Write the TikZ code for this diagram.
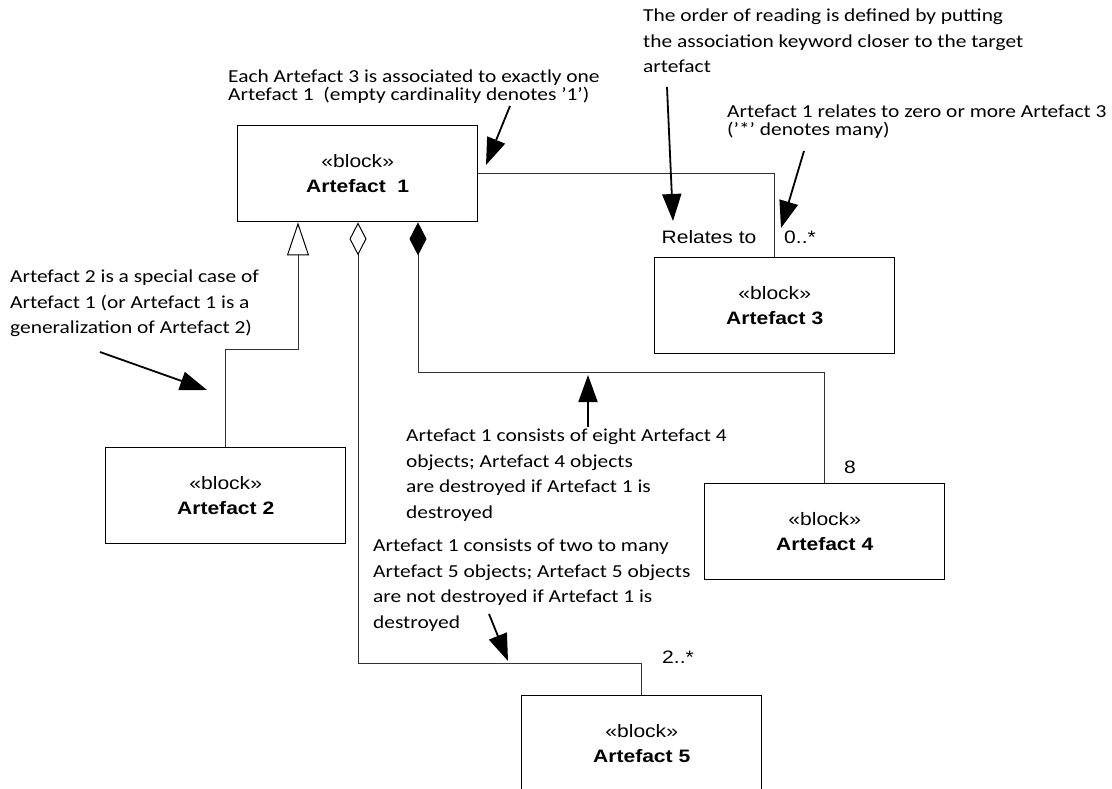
\documentclass[tikz,border=0pt]{standalone}
\usepackage{fontspec}
\usepackage{graphicx}
\usetikzlibrary{arrows.meta}
\newfontfamily\boxfont{Liberation Sans}
\newfontfamily\notefont{Carlito}
% all lettering is set slightly wide
\newcommand{\wide}[1]{\scalebox{1.17}[1]{#1}}
\tikzset{
  blockbox/.style={draw=black, line width=1.4pt, fill=white, anchor=north west,
    minimum width=240pt, minimum height=96pt, inner sep=0pt, align=center,
    font=\boxfont\fontsize{18}{25}\selectfont},
  conn/.style={draw=black!80, line width=1pt},
  gen/.style={conn, -{Triangle[open, length=33pt, width=22pt, line width=1pt, color=black, fill=white]}},
  agg/.style={conn, {Diamond[open, length=33pt, width=17pt, line width=1pt, color=black, fill=white]}-},
  comp/.style={conn, {Diamond[length=33pt, width=17pt, color=black, fill=black]}-},
  mult/.style={font=\boxfont\fontsize{18}{22}\selectfont, inner sep=0pt},
  note/.style={font=\notefont\fontsize{18.3}{25.5}\selectfont, align=left, anchor=north west, inner sep=0pt},
  tightnote/.style={note, font=\notefont\fontsize{18.3}{17.6}\selectfont},
  callout/.style={line width=1.8pt, -{Triangle[length=27pt, width=19pt]}},
}
\newcommand{\blocktext}[1]{\wide{«block»}\\\wide{\bfseries #1}}
\begin{document}
\begin{tikzpicture}[x=1pt, y=-1pt]
  \clip (0,0) rectangle (1112,789);
  \fill[white] (0,0) rectangle (1112,789);

  % blocks
  \node[blockbox] (a1) at (237,125) {\blocktext{Artefact\ \ 1}};
  \node[blockbox] (a2) at (105,447) {\blocktext{Artefact 2}};
  \node[blockbox] (a3) at (654,257) {\blocktext{Artefact 3}};
  \node[blockbox] (a4) at (704,483) {\blocktext{Artefact 4}};
  \node[blockbox] (a5) at (521,695) {\blocktext{Artefact 5}};

  % relations
  \draw[gen] (a2.north) -- ++(0,-98) -| ([xshift=61pt]a1.south west);
  \draw[agg] ([xshift=121pt]a1.south west) |- ([yshift=32pt]a5.north) -- (a5.north);
  \draw[comp] ([xshift=181pt]a1.south west) |- ([yshift=111pt]a4.north) -- (a4.north);
  \draw[conn] (a1.east) -| (a3.north);

  % association ends
  \node[mult] (rel) at (709,237) {\wide{Relates to}};
  \node[mult] (m3) at (800,237) {\wide{0..*}};
  \node[mult] (m4) at (850,467) {\wide{8}};
  \node[mult] (m5) at (678,657) {\wide{2..*}};

  % notes
  \node[tightnote] (nA) at (228,70) {\wide{Each Artefact 3 is associated to exactly one}\\\wide{Artefact 1\ \ (empty cardinality denotes ’1’)}};
  \node[note] (nB) at (643,9) {\wide{The order of reading is defined by putting}\\\wide{the association keyword closer to the target}\\\wide{artefact}};
  \node[tightnote] (nC) at (727,105) {\wide{Artefact 1 relates to zero or more Artefact 3}\\\wide{(’*’ denotes many)}};
  \node[note] (nD) at (10,270) {\wide{Artefact 2 is a special case of}\\\wide{Artefact 1 (or Artefact 1 is a}\\\wide{generalization of Artefact 2)}};
  \node[note] (nE) at (406,429) {\wide{Artefact 1 consists of eight Artefact 4}\\\wide{objects; Artefact 4 objects}\\\wide{are destroyed if Artefact 1 is}\\\wide{destroyed}};
  \node[note] (nF) at (373,539) {\wide{Artefact 1 consists of two to many}\\\wide{Artefact 5 objects; Artefact 5 objects}\\\wide{are not destroyed if Artefact 1 is}\\\wide{destroyed}};

  % callout arrows
  \coordinate (cA0) at (510,106);  \coordinate (cA1) at (486,165);
  \coordinate (cB0) at (667,87);   \coordinate (cB1) at (673,221);
  \coordinate (cC0) at (804,151);  \coordinate (cC1) at (781,228);
  \coordinate (cD0) at (100,352);  \coordinate (cD1) at (207,390);
  \coordinate (cE0) at (588,427);  \coordinate (cE1) at (588,375);
  \coordinate (cF0) at (489,614);  \coordinate (cF1) at (508,661);
  \draw[callout] (cA0) -- (cA1);
  \draw[callout] (cB0) -- (cB1);
  \draw[callout] (cC0) -- (cC1);
  \draw[callout] (cD0) -- (cD1);
  \draw[callout] (cE0) -- (cE1);
  \draw[callout] (cF0) -- (cF1);
\end{tikzpicture}
\end{document}
